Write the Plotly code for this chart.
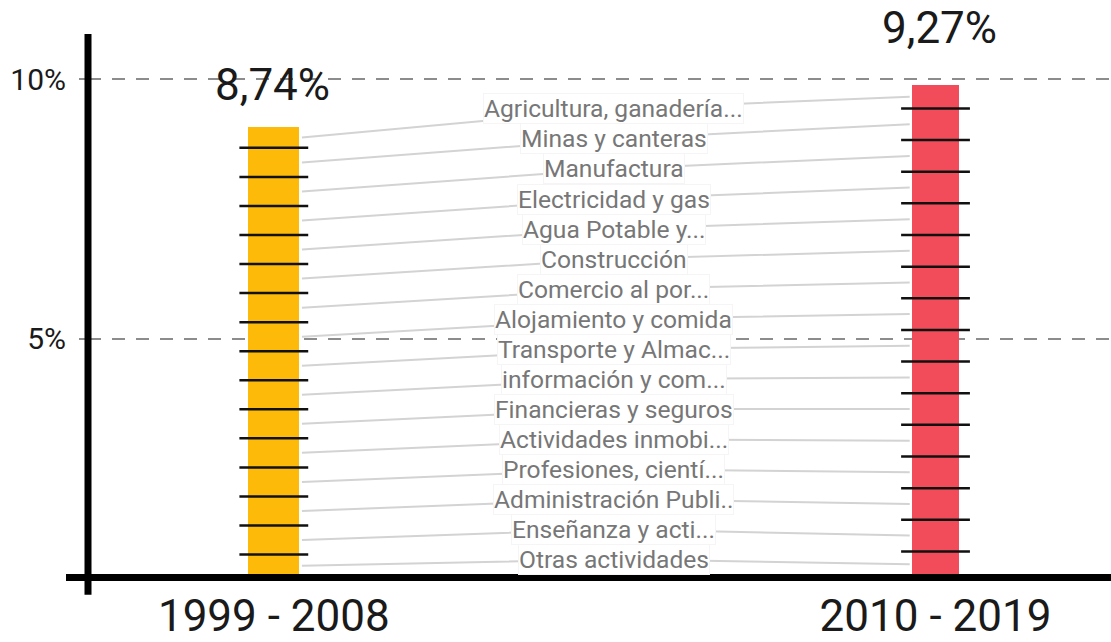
import plotly.graph_objects as go

# ---------------- data ----------------
periods = ["1999 - 2008", "2010 - 2019"]
period_totals_text = ["8,74%", "9,27%"]
sectors = [
    "Agricultura, ganadería...",
    "Minas y canteras",
    "Manufactura",
    "Electricidad y gas",
    "Agua Potable y...",
    "Construcción",
    "Comercio al por...",
    "Alojamiento y comida",
    "Transporte y Almac...",
    "información y com...",
    "Financieras y seguros",
    "Actividades inmobi...",
    "Profesiones, cientí...",
    "Administración Publi..",
    "Enseñanza y acti...",
    "Otras actividades",
]
# segment heights (percentage points), top -> bottom
values_1999_2008 = [0.40, 0.56, 0.56, 0.56, 0.56, 0.56, 0.56, 0.56,
                    0.56, 0.56, 0.56, 0.56, 0.56, 0.56, 0.56, 0.84]
values_2010_2019 = [0.45, 0.61, 0.61, 0.61, 0.61, 0.61, 0.61, 0.61,
                    0.61, 0.61, 0.61, 0.61, 0.61, 0.61, 0.61, 0.90]
y_tick_vals = [5, 10]
y_tick_text = ["5%", "10%"]

# ---------------- styling / layout ----------------
FONT = "Roboto"
bar_colors = ["#FDBA08", "#F24C5A"]
bar_widths = [0.077, 0.072]
x_pos = [0, 1]
Y_MIN, Y_MAX = 0.407, 10.875
X_MIN, X_MAX = -0.2808, 1.2652
label_x = 0.514
tick_half = 0.052

series = [values_1999_2008, values_2010_2019]
n = len(sectors)

fig = go.Figure()

# stacked bars: bottom sector first
for i in reversed(range(n)):
    fig.add_trace(go.Bar(
        x=x_pos,
        y=[series[0][i], series[1][i]],
        width=bar_widths,
        marker=dict(color=bar_colors, line=dict(width=0)),
        showlegend=False,
        hoverinfo="skip",
    ))

# cumulative boundaries (bottom -> top)
def bounds(vals):
    rev = list(reversed(vals))
    edges = [0.0]
    for v in rev:
        edges.append(edges[-1] + v)
    return edges  # len n+1

edges = [bounds(s) for s in series]

# visible midpoints of each sector segment, indexed top->bottom
def mids(e):
    out = []
    for k in range(n):
        lo = max(e[k], Y_MIN)
        hi = e[k + 1]
        out.append((lo + hi) / 2)
    return list(reversed(out))

mids_y = [mids(e) for e in edges]

# label vertical positions (layout): evenly spaced between top and bottom segments
top_label, bot_label = 9.43, 0.75
step = (top_label - bot_label) / (n - 1)
label_ys = [top_label - k * step for k in range(n)]

# connectors
cx, cy = [], []
for k in range(n):
    cx += [x_pos[0] + bar_widths[0] / 2 + 0.004, label_x, x_pos[1] - bar_widths[1] / 2 - 0.003, None]
    cy += [mids_y[0][k], label_ys[k], mids_y[1][k], None]
fig.add_trace(go.Scatter(x=cx, y=cy, mode="lines",
                         line=dict(color="#d3d3d3", width=2),
                         showlegend=False, hoverinfo="skip"))

# black separators between segments
bx, by = [], []
for j in range(2):
    for yb in edges[j][1:-1]:
        bx += [x_pos[j] - tick_half, x_pos[j] + tick_half, None]
        by += [yb, yb, None]
fig.add_trace(go.Scatter(x=bx, y=by, mode="lines",
                         line=dict(color="#111111", width=2.5),
                         showlegend=False, hoverinfo="skip"))

annotations = []
for k in range(n):
    annotations.append(dict(
        x=label_x, y=label_ys[k], xref="x", yref="y",
        text=sectors[k], showarrow=False,
        font=dict(family=FONT, size=24.6, color="#777777"),
        bgcolor="white", bordercolor="#f5f5f5", borderwidth=1, borderpad=0,
        xanchor="center", yanchor="middle",
    ))

totals = [sum(s) for s in series]
yshifts = [42, 57]
xshifts = [-1, 4]
for j in range(2):
    annotations.append(dict(
        x=x_pos[j], y=totals[j], xref="x", yref="y",
        text=period_totals_text[j], showarrow=False,
        font=dict(family=FONT, size=44, color="#1a1a1a"),
        xanchor="center", yanchor="middle", yshift=yshifts[j], xshift=xshifts[j],
    ))

fig.update_layout(
    width=1111, height=642,
    margin=dict(l=88, r=0, t=34, b=58),
    paper_bgcolor="white", plot_bgcolor="white",
    barmode="stack", bargap=0,
    font=dict(family=FONT),
    annotations=annotations,
    shapes=[
        dict(type="line", xref="paper", yref="paper", x0=0, x1=0, y0=-0.0327, y1=1.0,
             line=dict(color="black", width=7), layer="above"),
        dict(type="line", xref="paper", yref="paper", x0=-0.0215, x1=1.0, y0=-0.001, y1=-0.001,
             line=dict(color="black", width=7), layer="above"),
    ],
)
fig.update_xaxes(range=[X_MIN, X_MAX], tickvals=x_pos, ticktext=periods,
                 showgrid=False, zeroline=False, showline=False, ticks="",
                 ticklabelstandoff=9,
                 tickfont=dict(family=FONT, size=44, color="#1a1a1a"))
fig.update_yaxes(range=[Y_MIN, Y_MAX], tickvals=y_tick_vals, ticktext=y_tick_text,
                 showgrid=True, gridcolor="#8c8c8c", gridwidth=2, griddash="13px,11px",
                 zeroline=False, showline=False, ticks="outside", ticklen=8, tickwidth=2,
                 tickcolor="#8c8c8c", ticklabelstandoff=7,
                 tickfont=dict(family=FONT, size=30, color="#1a1a1a"))

page_fix = (
    "document.documentElement.style.margin='0';"
    "document.documentElement.style.overflow='hidden';"
    "document.body.style.margin='0';"
    "document.body.style.overflow='hidden';"
    "var gd=document.getElementsByClassName('plotly-graph-div')[0];"
    "gd.style.position='fixed';gd.style.top='0px';gd.style.left='0px';"
)
fig.write_html("out.html", config={"displayModeBar": False}, post_script=page_fix)
